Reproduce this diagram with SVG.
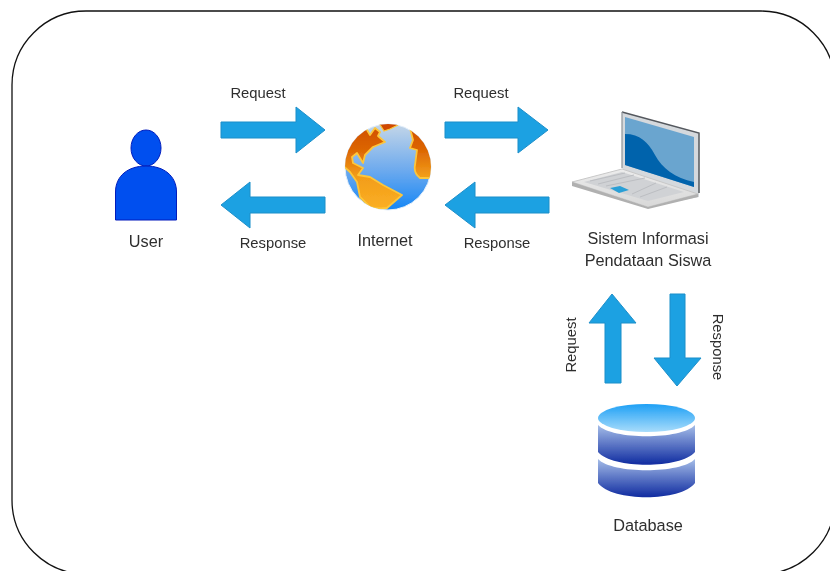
<svg xmlns="http://www.w3.org/2000/svg" width="830" height="571" viewBox="0 0 830 571">
<style>
text{font-family:"Liberation Sans",Arial,sans-serif;font-size:16.300px;fill:#2e2e2e;text-anchor:middle;filter:url(#soft)}
.lbl{font-size:14.800px}
.arrow{fill:#1ba1e2;stroke:#1b8ec9;stroke-width:1}
.icon{filter:url(#soft)}
</style>
<defs>
<filter id="soft" x="-10%" y="-10%" width="120%" height="120%"><feGaussianBlur stdDeviation="0.400"/></filter>
<clipPath id="globeClip"><circle cx="388" cy="167" r="43"/></clipPath>
<linearGradient id="dbTop" x1="0" y1="0" x2="0" y2="1"><stop offset="0" stop-color="#1ea0f5"/><stop offset="1" stop-color="#a8dcfb"/></linearGradient>
<linearGradient id="dbBody" x1="0" y1="0" x2="0" y2="1"><stop offset="0" stop-color="#a5bde8"/><stop offset="1" stop-color="#0f2ba0"/></linearGradient>
<linearGradient id="sea" x1="0" y1="0" x2="0" y2="1"><stop offset="0" stop-color="#c4d6e8"/><stop offset="0.550" stop-color="#6ba9ee"/><stop offset="1" stop-color="#1586f5"/></linearGradient>
<linearGradient id="land" gradientUnits="userSpaceOnUse" x1="0" y1="124" x2="0" y2="210"><stop offset="0" stop-color="#cf4d00"/><stop offset="0.300" stop-color="#dc6604"/><stop offset="0.600" stop-color="#f29c18"/><stop offset="1" stop-color="#fbb025"/></linearGradient>
<linearGradient id="base" x1="0" y1="0" x2="0" y2="1"><stop offset="0" stop-color="#ececec"/><stop offset="1" stop-color="#d8d8d8"/></linearGradient>
</defs>
<rect x="0" y="0" width="830" height="571" fill="#fff"/>
<rect id="frame" x="12" y="11" width="823" height="563" rx="74" ry="74" fill="#fff" stroke="#111" stroke-width="1.300"/>
<g id="connectors" class="icon">
<path class="arrow" d="M221 122H296V107L325 130L296 153V138H221Z"/>
<path class="arrow" d="M325 197H250V182L221 205L250 228V213H325Z"/>
<path class="arrow" d="M445 122H518V107L548 130L518 153V138H445Z"/>
<path class="arrow" d="M549 197H475V182L445 205L475 228V213H549Z"/>
<path class="arrow" d="M605 383V323H589L612 294L636 323H621V383Z"/>
<path class="arrow" d="M670 294V358H654L677 386L701 358H685V294Z"/>
</g>
<text class="lbl" x="258" y="98">Request</text>
<text class="lbl" x="273" y="248">Response</text>
<text class="lbl" x="481" y="98">Request</text>
<text class="lbl" x="497" y="248">Response</text>
<text class="lbl" transform="translate(576 345) rotate(-90)">Request</text>
<text class="lbl" transform="translate(713 347) rotate(90)">Response</text>
<g id="user">
<g class="icon">
<ellipse cx="146" cy="148" rx="15" ry="18" fill="#0050ef" stroke="#001dbc"/>
<path d="M115.500 220V192C115.500 176 128 166 146 166C164 166 176.500 176 176.500 192V220Z" fill="#0050ef" stroke="#001dbc"/>
</g>
<text x="146" y="247">User</text>
</g>
<g id="internet">
<g class="icon">
<circle cx="388" cy="167" r="43" fill="url(#sea)" stroke="#e2eefa"/>
<g clip-path="url(#globeClip)">
<path d="M340 163L340 125L367 124L367 130L370 135L375 128L380 132L378 136L385 142L373 147L365 155L363 163L357 153L352 157L353 163L363 168L358 175L370 177L383 185L402 195L387 208C380 209 374 208 370 207L360 197L357 182L350 172Z" fill="url(#land)" stroke="#fdc63a" stroke-width="1.800" stroke-linejoin="round"/>
<path d="M377 120L400 120L398 125L390 129L384 131Z" fill="#d04a00" stroke="#fdc63a" stroke-width="1.200"/>
<path d="M410 128L435 135V178H420C416 175 414 170 415 165L417 150L410 148L413 140Z" fill="url(#land)" stroke="#fdc63a" stroke-width="1.800" stroke-linejoin="round"/>
</g>
</g>
<text x="385" y="246">Internet</text>
</g>
<g id="sistem">
<g class="icon">
<path d="M622 112L699 133V197L648 207L622 168Z" fill="#d5d9dd"/>
<path d="M622 112L699 133V193" fill="none" stroke="#55595e" stroke-width="1.500"/>
<path d="M622 112V168" fill="none" stroke="#8d9297" stroke-width="1.200"/>
<path d="M625 117L694 137V187L625 165Z" fill="#6ba5cf"/>
<path d="M625 134C640 134 648 142 655 155C662 168 675 178 694 182V187L625 165Z" fill="#0063ac"/>
<path d="M572 182L622 169L698 194L648 207Z" fill="url(#base)" stroke="#c8c8c8"/>
<path d="M572 182V186L648 209L698 197V194L648 207Z" fill="#b0b0b0"/>
<path d="M584 182L622 172L684 192L648 201Z" fill="#d0d2d5"/>
<path d="M590 181L625 173M598 184L634 175M606 186L645 178M632 194L656 183M640 197L667 187" stroke="#bcbec2" stroke-width="1" fill="none"/>
<path d="M610 188L620 186L629 190L619 193Z" fill="#2a9fd6"/>
</g>
<text x="648" y="244">Sistem Informasi</text>
<text x="648" y="266">Pendataan Siswa</text>
</g>
<g id="database">
<g class="icon">
<path d="M598 425C612 440 681 440 695 425V452C681 469 612 469 598 452Z" fill="url(#dbBody)"/>
<path d="M598 459C612 474 681 474 695 459V483C681 502 612 502 598 483Z" fill="url(#dbBody)"/>
<ellipse cx="646.500" cy="418" rx="48.500" ry="14" fill="url(#dbTop)"/>
</g>
<text x="648" y="531">Database</text>
</g>
</svg>
